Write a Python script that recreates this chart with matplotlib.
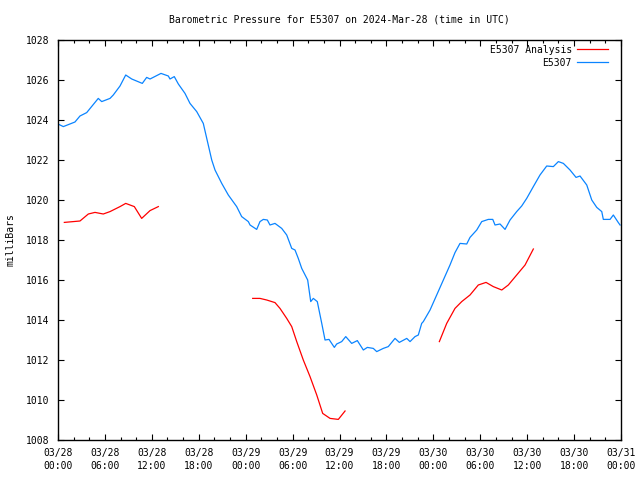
import matplotlib
matplotlib.use("Agg")
import matplotlib.pyplot as plt
from matplotlib.ticker import MultipleLocator

# hours since 2024-03-28 00:00 UTC
obs_hours = [0.0, 0.26, 0.68, 2.17, 2.81, 3.67, 5.15, 5.59, 6.65, 7.07, 7.93, 8.66, 9.43,
             10.78, 11.34, 11.77, 13.17, 14.11, 14.32, 14.87, 15.39, 16.24, 16.88, 17.74,
             18.58, 19.66, 20.08, 20.94, 21.78, 22.85, 23.49, 24.34, 24.56, 25.41, 25.83,
             26.26, 26.77, 27.11, 27.75, 28.61, 29.25, 29.89, 30.31, 30.73, 31.17, 31.93,
             32.32, 32.65, 33.16, 33.73, 34.15, 34.66, 35.34, 35.64, 36.28, 36.8, 37.56,
             38.28, 39.05, 39.56, 40.32, 40.76, 41.6, 42.24, 43.1, 43.65, 44.6, 45.02,
             45.66, 46.08, 46.51, 46.72, 47.58, 48.43, 49.28, 50.13, 50.77, 51.41, 52.27,
             52.69, 53.55, 54.19, 55.03, 55.6, 55.89, 56.53, 57.17, 57.81, 58.66, 59.3,
             59.94, 60.79, 61.64, 62.5, 63.35, 63.99, 64.63, 65.48, 66.25, 66.76, 67.62,
             68.26, 68.9, 69.54, 69.74, 70.6, 71.02, 71.66, 71.88]
obs_pressure = [1023.8, 1023.75, 1023.67, 1023.9, 1024.2, 1024.37, 1025.08, 1024.92, 1025.08,
                1025.25, 1025.7, 1026.25, 1026.05, 1025.83, 1026.13, 1026.05, 1026.33,
                1026.2, 1026.05, 1026.17, 1025.8, 1025.33, 1024.83, 1024.42, 1023.83, 1022.0,
                1021.5, 1020.83, 1020.25, 1019.67, 1019.17, 1018.92, 1018.75, 1018.53,
                1018.92, 1019.03, 1019.0, 1018.75, 1018.83, 1018.58, 1018.25, 1017.58,
                1017.5, 1017.08, 1016.58, 1016.0, 1014.92, 1015.08, 1014.92, 1013.83,
                1013.0, 1013.03, 1012.63, 1012.8, 1012.92, 1013.17, 1012.83, 1012.97,
                1012.5, 1012.63, 1012.58, 1012.42, 1012.58, 1012.67, 1013.08, 1012.88,
                1013.08, 1012.92, 1013.17, 1013.25, 1013.83, 1013.92, 1014.5, 1015.25,
                1016.0, 1016.75, 1017.37, 1017.83, 1017.8, 1018.13, 1018.5, 1018.92,
                1019.03, 1019.03, 1018.75, 1018.8, 1018.53, 1019.0, 1019.42, 1019.7,
                1020.08, 1020.67, 1021.25, 1021.7, 1021.67, 1021.92, 1021.83, 1021.5,
                1021.13, 1021.2, 1020.75, 1020.0, 1019.63, 1019.42, 1019.03, 1019.03,
                1019.25, 1018.87, 1018.75]

ana1_hours = [0.81, 2.81, 3.88, 4.73, 5.79, 6.65, 7.93, 8.66, 9.76, 10.7, 11.77, 12.83]
ana1_pressure = [1018.88, 1018.95, 1019.3, 1019.38, 1019.3, 1019.42, 1019.67, 1019.83,
                 1019.67, 1019.08, 1019.47, 1019.67]
ana2_hours = [24.9, 25.83, 26.69, 27.75, 28.39, 29.25, 29.89, 30.53, 31.37, 32.23, 33.09,
              33.85, 34.79, 35.85, 36.71]
ana2_pressure = [1015.08, 1015.08, 1015.0, 1014.87, 1014.58, 1014.08, 1013.67, 1012.92,
                 1012.0, 1011.17, 1010.25, 1009.33, 1009.08, 1009.03, 1009.45]
ana3_hours = [48.77, 49.71, 50.77, 51.63, 52.69, 53.75, 54.74, 55.67, 56.75, 57.59, 58.66,
              59.73, 60.79]
ana3_pressure = [1012.92, 1013.83, 1014.58, 1014.92, 1015.25, 1015.75, 1015.88, 1015.67,
                 1015.5, 1015.75, 1016.25, 1016.75, 1017.55]

tick_hours = [0, 6, 12, 18, 24, 30, 36, 42, 48, 54, 60, 66, 72]
tick_labels = ["03/28\n00:00", "03/28\n06:00", "03/28\n12:00", "03/28\n18:00",
               "03/29\n00:00", "03/29\n06:00", "03/29\n12:00", "03/29\n18:00",
               "03/30\n00:00", "03/30\n06:00", "03/30\n12:00", "03/30\n18:00",
               "03/31\n00:00"]

FONT = "DejaVu Sans Mono"
FS = 7.0
RED = "#ff0000"
BLUE = "#0a84ff"

fig = plt.figure(figsize=(6.4, 4.8), dpi=100)
ax = fig.add_axes([58 / 640, 40 / 480, (621 - 58) / 640, 400 / 480])

ax.plot(ana1_hours, ana1_pressure, color=RED, lw=0.9, label="E5307 Analysis")
ax.plot(ana2_hours, ana2_pressure, color=RED, lw=0.9)
ax.plot(ana3_hours, ana3_pressure, color=RED, lw=0.9)
ax.plot(obs_hours, obs_pressure, color=BLUE, lw=0.9, label="E5307")

ax.set_xlim(0, 72)
ax.set_ylim(1008, 1028)
ax.set_xticks(tick_hours)
ax.set_xticklabels(tick_labels, fontfamily=FONT, fontsize=FS, linespacing=1.35)
ax.xaxis.set_minor_locator(MultipleLocator(2))
ax.yaxis.set_major_locator(MultipleLocator(2))
for lbl in ax.get_yticklabels():
    lbl.set_fontfamily(FONT)
    lbl.set_fontsize(FS)
ax.tick_params(which="both", direction="in", top=True, right=True, width=0.8)
ax.tick_params(which="major", length=4)
ax.tick_params(axis="x", which="major", pad=6)
ax.tick_params(axis="y", which="major", pad=6)
ax.tick_params(which="minor", length=2)
for s in ax.spines.values():
    s.set_linewidth(1.0)

ax.set_ylabel("milliBars", fontfamily=FONT, fontsize=FS, labelpad=8)
fig.text((58 + 621) / 2 / 640, 1 - 19 / 480,
         "Barometric Pressure for E5307 on 2024-Mar-28 (time in UTC)",
         ha="center", va="center", fontfamily=FONT, fontsize=FS)

leg = ax.legend(loc="upper right", bbox_to_anchor=(1 - 4 / 563, 1 + 4 / 400),
                frameon=False, markerfirst=False,
                prop={"family": FONT, "size": FS}, handlelength=3.25,
                handletextpad=0.5, labelspacing=0.3, borderaxespad=0.5,
                borderpad=0.4)

fig.savefig("out.png", dpi=100)
